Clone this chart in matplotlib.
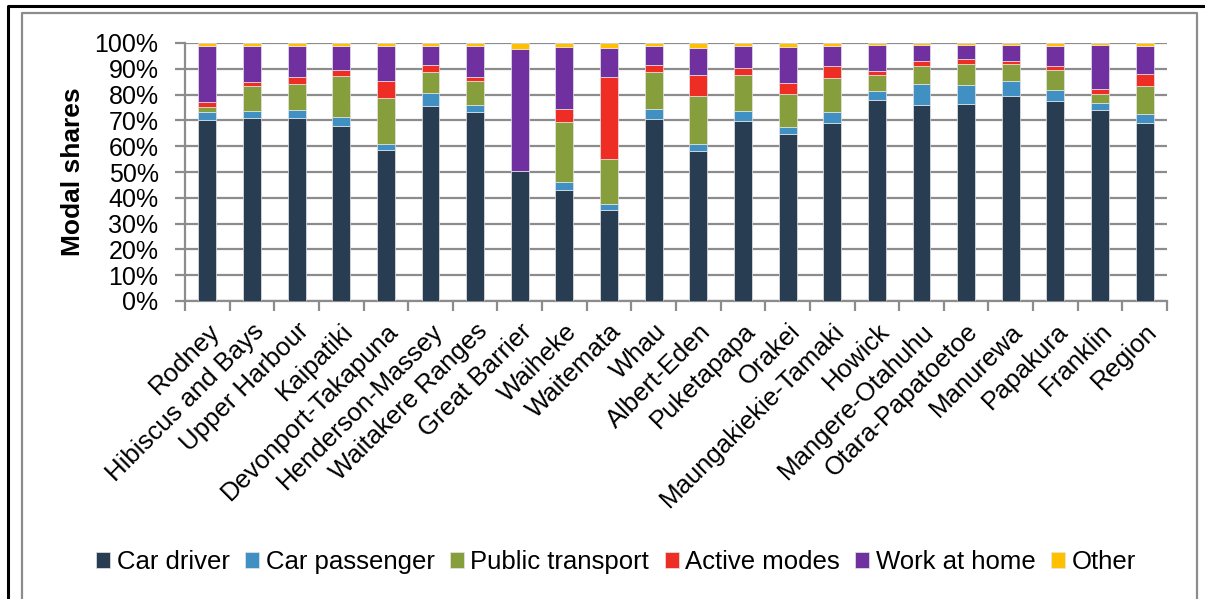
import matplotlib
matplotlib.use("Agg")
import matplotlib.pyplot as plt
from matplotlib.lines import Line2D
import numpy as np

plt.rcParams["font.family"] = ["Liberation Sans", "DejaVu Sans"]

wards = [
    "Rodney", "Hibiscus and Bays", "Upper Harbour", "Kaipatiki", "Devonport-Takapuna",
    "Henderson-Massey", "Waitakere Ranges", "Great Barrier", "Waiheke", "Waitemata",
    "Whau", "Albert-Eden", "Puketapapa", "Orakei", "Maungakiekie-Tamaki", "Howick",
    "Mangere-Otahuhu", "Otara-Papatoetoe", "Manurewa", "Papakura", "Franklin", "Region",
]

# modal shares in percent
car_driver = [70.1, 70.9, 70.9, 67.8, 58.6, 75.7, 73.1, 50.5, 43.2, 35.3, 70.4,
              58.3, 69.6, 64.9, 68.8, 78.1, 76.1, 76.5, 79.3, 77.4, 74.0, 68.8]
car_passenger = [3.0, 2.7, 3.1, 3.5, 2.2, 4.8, 2.8, 0.0, 3.1, 2.2, 4.0,
                 2.6, 4.0, 2.5, 4.4, 3.4, 8.0, 7.1, 6.1, 4.2, 2.7, 3.6]
public_transport = [2.1, 9.6, 10.2, 16.0, 18.0, 8.4, 9.5, 0.0, 23.2, 17.5, 14.3,
                    18.5, 14.1, 12.8, 13.3, 6.2, 6.8, 8.2, 6.3, 7.8, 3.6, 10.9]
active_modes = [2.0, 1.8, 2.6, 2.3, 6.5, 2.4, 1.5, 0.0, 4.9, 31.7, 2.8,
                8.3, 2.7, 4.3, 4.7, 1.6, 2.1, 2.1, 1.3, 1.8, 1.8, 4.8]
work_at_home = [21.8, 14.0, 12.2, 9.1, 13.4, 7.7, 12.1, 47.0, 24.2, 11.2, 7.2,
                10.4, 8.3, 14.1, 7.5, 10.1, 6.1, 5.2, 6.4, 7.8, 17.3, 10.6]
other = [1.0, 1.0, 1.0, 1.3, 1.3, 1.0, 1.0, 2.5, 1.4, 2.1, 1.3,
         1.9, 1.3, 1.4, 1.3, 0.6, 0.9, 0.9, 0.6, 1.0, 0.6, 1.3]

series = [
    ("Car driver", car_driver, "#283d52"),
    ("Car passenger", car_passenger, "#4190c4"),
    ("Public transport", public_transport, "#879e3c"),
    ("Active modes", active_modes, "#ee2d24"),
    ("Work at home", work_at_home, "#7030a0"),
    ("Other", other, "#ffc000"),
]

W, H = 1205, 599
fig = plt.figure(figsize=(W / 100, H / 100), dpi=100)
ax = fig.add_axes([185 / W, 1 - 301 / H, (1167 - 185) / W, (301 - 43) / H])

x = np.arange(len(wards))
bottom = np.zeros(len(wards))
for name, vals, color in series:
    vals = np.array(vals) / 100
    ax.bar(x, vals, width=0.4, bottom=bottom, color=color, label=name,
           edgecolor="#e6e6e6", linewidth=0.5, zorder=3)
    bottom += vals

ax.set_xlim(-0.5, len(wards) - 0.5)
ax.set_ylim(0, 1)
ax.set_yticks(np.linspace(0, 1, 11))
ax.set_yticklabels([f"{int(v)}%" for v in np.linspace(0, 100, 11)], fontsize=18)
ax.yaxis.grid(True, color="#8c8c8c", lw=1.6, zorder=0)
ax.set_axisbelow(True)

ax.set_xticks(x)
ax.set_xticklabels(wards, rotation=45, ha="right", rotation_mode="anchor", fontsize=18.5)
ax.set_xticks(np.arange(-0.5, len(wards)), minor=True)
ax.tick_params(axis="x", which="major", length=0, pad=13)
ax.tick_params(axis="x", which="minor", length=7, width=1.6, color="#8c8c8c")
ax.tick_params(axis="y", length=7, width=1.6, color="#8c8c8c", pad=12)

for side in ("top", "right"):
    ax.spines[side].set_visible(False)
for side in ("left", "bottom"):
    ax.spines[side].set_color("#8c8c8c")
    ax.spines[side].set_linewidth(1.6)

ax.set_ylabel("Modal shares", fontsize=19, fontweight="bold", labelpad=7)

ax.legend(loc="center", bbox_to_anchor=(0.5 * (92 + 1140) / W, 1 - 562 / H),
          bbox_transform=fig.transFigure, ncol=6, frameon=False, fontsize=18.5,
          handlelength=0.55, handleheight=0.55, handletextpad=0.25, columnspacing=0.6)

# outer black frame and inner gray chart border
def fig_line(xs, ys, color, lw):
    fig.add_artist(Line2D([v / W for v in xs], [1 - v / H for v in ys],
                          color=color, lw=lw, transform=fig.transFigure))

fig_line([8, 8, W + 5], [H + 5, 6, 6], "black", 2.2)
fig_line([22, 22, 1197, 1197], [H + 5, 13, 13, H + 5], "#8c8c8c", 1.6)

fig.savefig("out.png", dpi=100)
